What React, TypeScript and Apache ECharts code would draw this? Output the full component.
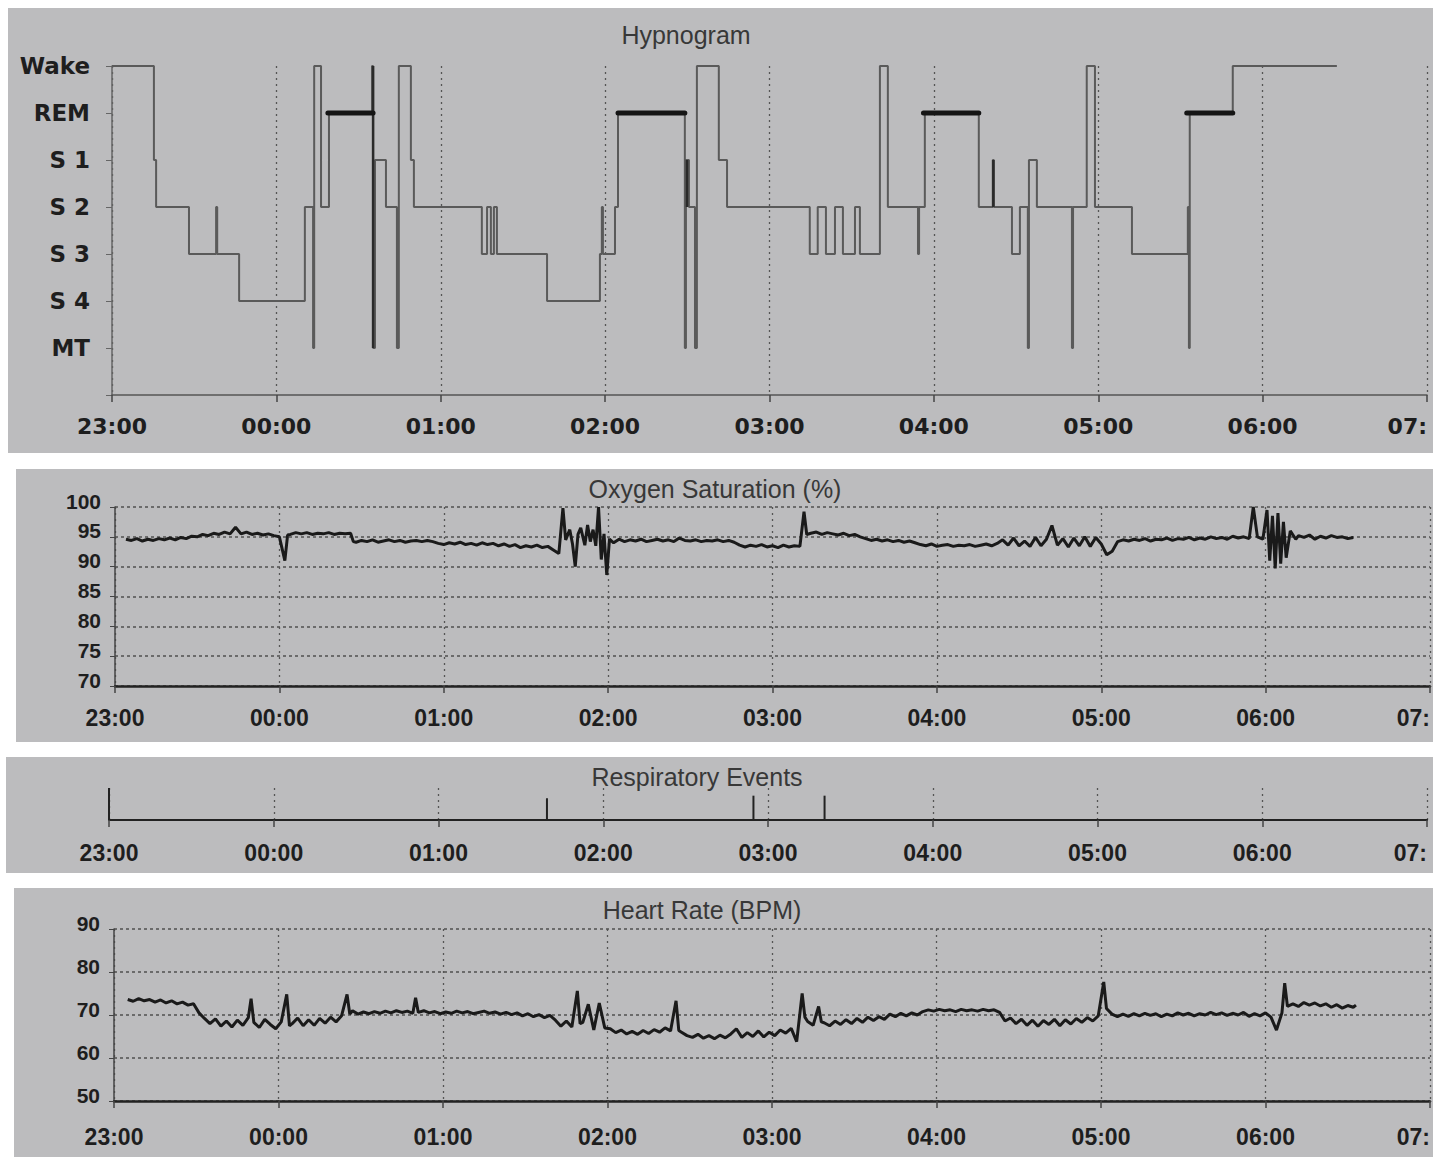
import React, { useEffect, useRef } from "react";
import * as echarts from "echarts";

// ---- tick labels (the last one is cropped to "07:" in the source picture) ----
const hourLabels = ["23:00", "00:00", "01:00", "02:00", "03:00", "04:00", "05:00", "06:00", "07:"];
const stageLabels = ["", "MT", "S 4", "S 3", "S 2", "S 1", "REM", "Wake"];

// ---- titles ----
const titles = ["Hypnogram", "Oxygen Saturation (%)", "Respiratory Events", "Heart Rate (BPM)"];

// ---- hypnogram: [minutes after 23:00, stage] (Wake=7 ... MT=1), stage holds until next point ----
const hypnogram: [number, number][] = [
  [0, 7], [15.3, 5], [16.1, 4], [28.1, 3], [38.0, 4], [38.4, 3], [46.4, 2], [70.4, 4], [73.4, 1], [73.8, 7],
  [76.3, 4], [79.2, 6], [94.9, 7], [95.3, 1], [96.0, 5], [100.0, 4], [104.0, 1], [104.7, 7], [109.1, 5], [110.2, 4],
  [135.0, 3], [136.9, 4], [138.3, 3], [139.4, 4], [140.5, 3], [158.8, 2], [178.1, 3], [178.8, 4], [179.2, 3], [183.6, 4],
  [184.7, 6], [209.1, 1], [209.5, 5], [210.6, 4], [212.8, 1], [213.5, 7], [221.5, 5], [224.5, 4], [254.7, 3], [257.6, 4],
  [260.6, 3], [263.9, 4], [266.8, 3], [271.2, 4], [273.0, 3], [280.3, 7], [283.2, 4], [294.2, 3], [294.6, 4], [296.7, 6],
  [316.4, 4], [321.5, 5], [321.9, 4], [328.5, 3], [331.4, 4], [334.3, 1], [334.7, 5], [337.6, 4], [350.4, 1], [350.8, 4],
  [355.8, 7], [358.8, 4], [372.3, 3], [392.7, 4], [393.1, 1], [393.4, 6], [409.1, 7], [447.1, 7],
];
// REM bouts drawn as thick bars [start, end]
const remBouts: [number, number][] = [[78.8, 95.3], [184.7, 209.1], [296.2, 316.4], [392.3, 409.1]];
// darker transitions [minute, fromStage, toStage]
const darkTransitions: [number, number, number][] = [[95.3, 1, 7], [209.9, 4, 5], [321.7, 4, 5]];

// ---- oxygen saturation: [minute, %] ----
const spo2: [number, number][] = [
  [4, 94.6], [6, 94.4], [8, 94.7], [10, 94.3], [12, 94.6], [14, 94.4], [16, 94.7], [18, 94.5], [20, 94.8], [22, 94.5],
  [24, 94.9], [26, 94.7], [28, 95.1], [30, 95.0], [32, 95.4], [34, 95.2], [36, 95.6], [38, 95.4], [40, 95.8], [42, 95.5],
  [44, 96.6], [46, 95.5], [48, 95.8], [50, 95.4], [52, 95.6], [54, 95.3], [56, 95.5], [58, 95.2], [60, 95.0], [62, 91.0],
  [63, 95.3], [64, 95.4], [66, 95.7], [68, 95.5], [70, 95.7], [72, 95.4], [74, 95.6], [76, 95.5], [78, 95.7], [80, 95.4],
  [82, 95.6], [84, 95.5], [86, 95.6], [87, 94.2], [88, 94.1], [90, 94.4], [92, 94.2], [94, 94.5], [96, 94.1], [98, 94.3],
  [100, 94.5], [102, 94.2], [104, 94.4], [106, 94.1], [108, 94.3], [110, 94.4], [112, 94.2], [114, 94.4], [116, 94.2], [118, 93.9],
  [120, 93.7], [122, 94.0], [124, 93.8], [126, 94.1], [128, 93.7], [130, 93.9], [132, 93.6], [134, 94.0], [136, 93.7], [138, 93.9],
  [140, 93.5], [142, 93.8], [144, 93.4], [146, 93.7], [148, 93.2], [150, 93.5], [152, 93.3], [154, 93.6], [156, 93.2], [158, 93.4],
  [160, 92.8], [162, 92.2], [163.5, 99.8], [164.5, 94.5], [166, 96.2], [167, 93.8], [168, 90.0], [169, 95.4], [170, 96.5], [171.5, 93.6],
  [172.5, 97.0], [173.5, 94.2], [174.5, 96.2], [175.5, 93.5], [176.5, 100], [177.5, 91.2], [178.5, 95.5], [179.5, 88.6], [180.5, 94.6], [182, 94.0],
  [184, 94.6], [186, 94.2], [188, 94.5], [190, 94.3], [192, 94.6], [194, 94.2], [196, 94.4], [198, 94.6], [200, 94.3], [202, 94.5],
  [204, 94.2], [206, 94.8], [208, 94.4], [210, 94.3], [212, 94.5], [214, 94.2], [216, 94.4], [218, 94.3], [220, 94.5], [222, 94.2],
  [224, 94.4], [226, 94.1], [228, 93.6], [230, 93.3], [232, 93.6], [234, 93.4], [236, 93.7], [238, 93.3], [240, 93.5], [242, 93.2],
  [244, 93.6], [246, 93.3], [248, 93.5], [250, 93.4], [251.5, 99.2], [252.5, 95.4], [254, 95.6], [256, 95.8], [258, 95.4], [260, 95.7],
  [262, 95.5], [264, 95.3], [266, 95.6], [268, 95.2], [270, 95.4], [272, 95.0], [274, 94.7], [276, 94.4], [278, 94.6], [280, 94.3],
  [282, 94.5], [284, 94.2], [286, 94.4], [288, 94.1], [290, 94.3], [292, 94.0], [294, 93.7], [296, 93.5], [298, 93.8], [300, 93.4],
  [302, 93.6], [304, 93.7], [306, 93.4], [308, 93.6], [310, 93.5], [312, 93.7], [314, 93.4], [316, 93.6], [318, 93.8], [320, 93.5],
  [322, 93.9], [324, 94.5], [326, 93.6], [328, 94.8], [330, 93.5], [332, 94.3], [334, 93.4], [336, 94.9], [338, 93.5], [340, 94.6],
  [342, 96.9], [344, 93.6], [346, 94.7], [348, 93.3], [350, 94.8], [352, 93.5], [354, 95.0], [356, 93.4], [358, 94.9], [360, 93.8],
  [362, 92.0], [364, 92.6], [366, 94.2], [368, 94.5], [370, 94.3], [372, 94.6], [374, 94.4], [376, 94.7], [378, 94.3], [380, 94.6],
  [382, 94.5], [384, 94.8], [386, 94.4], [388, 94.7], [390, 94.6], [392, 94.9], [394, 94.5], [396, 94.8], [398, 94.6], [400, 95.0],
  [402, 94.7], [404, 94.9], [406, 94.6], [408, 95.1], [410, 94.8], [412, 95.0], [414, 94.7], [415.5, 100], [417, 95.0], [419, 94.6],
  [420.5, 99.5], [421.5, 91.0], [422.5, 98.5], [423.5, 89.7], [424.5, 99.0], [425.5, 90.5], [426.5, 97.5], [427.5, 91.5], [429, 96.0], [431, 94.6],
  [432, 95.2], [434, 94.9], [436, 95.3], [438, 94.6], [440, 95.1], [442, 94.8], [444, 95.2], [446, 94.9], [448, 95.0], [450, 94.7],
  [452, 94.9],
];

// ---- heart rate: [minute, bpm] ----
const heartRate: [number, number][] = [
  [5, 73.6], [7, 73.2], [9, 73.8], [11, 73.3], [13, 73.6], [15, 73.0], [17, 73.5], [19, 72.8], [21, 73.3], [23, 72.6],
  [25, 73.0], [27, 72.3], [29, 72.6], [31, 70.5], [33, 69.2], [35, 68.0], [37, 69.1], [39, 67.4], [41, 68.6], [43, 67.2],
  [45, 68.8], [47, 67.6], [49, 69.4], [50, 73.8], [51, 68.3], [53, 67.1], [55, 69.0], [57, 67.8], [59, 66.8], [61, 68.4],
  [63, 74.8], [64, 67.5], [65, 68.0], [67, 69.3], [69, 67.5], [71, 68.9], [73, 67.6], [75, 69.2], [77, 68.1], [79, 69.5],
  [81, 68.4], [83, 69.8], [85, 74.8], [86, 70.2], [87, 71.0], [89, 70.2], [91, 70.7], [93, 70.3], [95, 70.8], [97, 70.4],
  [99, 70.9], [101, 70.5], [103, 71.0], [105, 70.6], [107, 70.9], [109, 70.4], [110, 74.0], [111, 70.6], [113, 71.0], [115, 70.5],
  [117, 70.8], [119, 70.3], [121, 70.7], [123, 70.4], [125, 70.9], [127, 70.5], [129, 70.8], [131, 70.3], [133, 70.6], [135, 70.9],
  [137, 70.4], [139, 70.7], [141, 70.2], [143, 70.6], [145, 70.1], [147, 70.5], [149, 69.8], [151, 70.3], [153, 69.6], [155, 70.1],
  [157, 69.4], [159, 69.9], [161, 68.8], [163, 67.4], [165, 68.6], [167, 67.2], [169, 75.6], [170, 68.0], [171, 68.3], [173, 72.5],
  [175, 66.5], [177, 72.8], [179, 67.0], [181, 66.8], [183, 65.9], [185, 66.5], [187, 65.6], [189, 66.2], [191, 65.5], [193, 66.4],
  [195, 65.7], [197, 66.6], [199, 66.0], [201, 67.0], [203, 66.3], [205, 73.3], [206, 66.4], [207, 66.0], [209, 65.2], [211, 64.8],
  [213, 65.5], [215, 64.6], [217, 65.2], [219, 64.5], [221, 65.3], [223, 64.7], [225, 65.6], [227, 66.8], [229, 64.8], [231, 65.9],
  [233, 65.0], [235, 66.3], [237, 64.9], [239, 66.0], [241, 65.2], [243, 66.5], [245, 65.8], [247, 66.9], [249, 63.8], [251, 75.0],
  [252, 69.5], [253, 68.5], [255, 67.6], [257, 72.0], [258, 68.4], [259, 68.2], [261, 67.5], [263, 68.6], [265, 67.8], [267, 68.9],
  [269, 68.0], [271, 69.2], [273, 68.3], [275, 69.5], [277, 68.7], [279, 69.6], [281, 69.0], [283, 70.2], [285, 69.6], [287, 70.4],
  [289, 69.8], [291, 70.5], [293, 70.0], [295, 70.8], [297, 71.2], [299, 70.9], [301, 71.3], [303, 71.0], [305, 71.2], [307, 70.8],
  [309, 71.3], [311, 71.0], [313, 71.2], [315, 70.9], [317, 71.3], [319, 71.0], [321, 71.2], [323, 70.6], [325, 68.6], [327, 69.3],
  [329, 68.0], [331, 69.0], [333, 67.6], [335, 68.8], [337, 67.4], [339, 68.7], [341, 67.8], [343, 69.0], [345, 67.5], [347, 68.9],
  [349, 67.9], [351, 69.2], [353, 68.3], [355, 69.4], [357, 68.6], [359, 69.8], [361, 77.7], [362, 71.5], [364, 70.2], [366, 69.6],
  [368, 70.2], [370, 69.7], [372, 70.3], [374, 69.8], [376, 70.4], [378, 69.9], [380, 70.3], [382, 69.6], [384, 70.2], [386, 69.8],
  [388, 70.5], [390, 70.0], [392, 70.4], [394, 69.8], [396, 70.3], [398, 70.0], [400, 70.6], [402, 70.1], [404, 70.5], [406, 69.9],
  [408, 70.4], [410, 70.0], [412, 70.6], [414, 69.7], [416, 70.3], [418, 69.8], [420, 70.5], [422, 69.5], [424, 66.5], [426, 70.5],
  [427, 77.4], [428, 72.0], [430, 72.6], [432, 72.0], [434, 72.9], [436, 72.3], [438, 72.8], [440, 72.1], [442, 72.6], [444, 71.8],
  [446, 72.4], [448, 71.6], [450, 72.2], [452, 71.8], [453, 72.3],
];

// ---- respiratory events: [minute, relative height] ----
const respEvents: [number, number][] = [[0, 1.0], [159.5, 0.68], [234.7, 0.76], [260.6, 0.76]];

const PANEL = "#bcbcbe";
const INK = "#1e1e1e";

export default function App() {
  const ref = useRef<HTMLDivElement>(null);

  useEffect(() => {
    if (!ref.current) return;
    const chart = echarts.init(ref.current, null, { renderer: "svg" });
    const hourFmt = (v: number) => hourLabels[Math.round(v / 60)] ?? "";

    const grids = [
      { left: 112, top: 66, width: 1315, height: 329 },
      { left: 115, top: 507, width: 1315, height: 179 },
      { left: 109, top: 788, width: 1318, height: 32 },
      { left: 114, top: 929, width: 1316, height: 172 },
    ].map((g) => ({ ...g, containLabel: false, outerBoundsMode: "none" }));

    const xBase = (i: number, labelFont: any, margin: number, axisW: number) => ({
      gridIndex: i,
      type: "value",
      min: 0,
      max: 480,
      interval: 60,
      axisLine: { show: true, onZero: false, lineStyle: { color: i === 0 ? "#555" : "#222", width: axisW } },
      axisTick: { show: true, length: 7, lineStyle: { color: "#444", width: 1.5 } },
      axisLabel: { formatter: hourFmt, margin, color: INK, alignMaxLabel: "right", ...labelFont },
      splitLine: { show: true, lineStyle: { type: [2, 4], color: "#555", width: 1.3 } },
    });

    const boldLib = { fontFamily: "Liberation Sans", fontWeight: "bold", fontSize: 23 };

    const xAxis = [
      xBase(0, { fontFamily: "DejaVu Sans", fontWeight: "bold", fontSize: 22 }, 20, 1.5),
      xBase(1, boldLib, 20, 2.5),
      xBase(2, boldLib, 21, 2.2),
      xBase(3, boldLib, 24, 2.5),
    ];

    const yNum = (i: number, min: number, max: number, interval: number) => ({
      gridIndex: i,
      type: "value",
      min,
      max,
      interval,
      axisLine: { show: true, lineStyle: { color: "#444", width: 1.5 } },
      axisTick: { show: true, length: 5, lineStyle: { color: "#444" } },
      axisLabel: {
        margin: 14,
        color: INK,
        fontFamily: "Liberation Sans",
        fontWeight: "bold",
        fontSize: 21,
        verticalAlign: "bottom",
        lineHeight: 12,
      },
      splitLine: { show: true, lineStyle: { type: [3, 3], color: "#505050", width: 1.5 } },
    });

    const yAxis = [
      {
        gridIndex: 0,
        type: "value",
        min: 0,
        max: 7,
        interval: 1,
        axisLine: { show: true, lineStyle: { color: "#666", width: 1.5 } },
        axisTick: { show: true, length: 6, lineStyle: { color: "#666" } },
        axisLabel: {
          formatter: (v: number) => stageLabels[v] ?? "",
          margin: 22,
          color: INK,
          fontFamily: "DejaVu Sans",
          fontWeight: "bold",
          fontSize: 23,
        },
        splitLine: { show: false },
      },
      yNum(1, 70, 100, 5),
      { gridIndex: 2, type: "value", min: 0, max: 1, show: false },
      yNum(3, 50, 90, 10),
    ];

    const series: any[] = [
      {
        type: "line",
        xAxisIndex: 0,
        yAxisIndex: 0,
        step: "end",
        data: hypnogram,
        symbol: "none",
        lineStyle: { color: "#5a5a5a", width: 2 },
        z: 3,
      },
      ...darkTransitions.map(([t, a, b]) => ({
        type: "line",
        xAxisIndex: 0,
        yAxisIndex: 0,
        data: [[t, a], [t, b]],
        symbol: "none",
        lineStyle: { color: "#2a2a2a", width: 2.5 },
        z: 4,
      })),
      ...remBouts.map(([s, e]) => ({
        type: "line",
        xAxisIndex: 0,
        yAxisIndex: 0,
        data: [[s, 6], [e, 6]],
        symbol: "none",
        lineStyle: { color: "#151515", width: 5, cap: "round" },
        z: 5,
      })),
      {
        type: "line",
        xAxisIndex: 1,
        yAxisIndex: 1,
        data: spo2,
        symbol: "none",
        lineStyle: { color: "#1a1a1a", width: 3 },
        z: 3,
      },
      {
        type: "bar",
        xAxisIndex: 2,
        yAxisIndex: 2,
        data: respEvents,
        barWidth: 2,
        itemStyle: { color: "#222" },
        z: 3,
      },
      {
        type: "line",
        xAxisIndex: 3,
        yAxisIndex: 3,
        data: heartRate,
        symbol: "none",
        lineStyle: { color: "#1a1a1a", width: 3 },
        z: 3,
      },
    ];

    const panels = [
      { x: 8, y: 8, w: 1425, h: 445 },
      { x: 16, y: 469, w: 1417, h: 273 },
      { x: 6, y: 757, w: 1427, h: 116 },
      { x: 14, y: 888, w: 1419, h: 269 },
    ];
    const titlePos = [
      { x: 686, y: 35 },
      { x: 715, y: 489 },
      { x: 697, y: 777 },
      { x: 702, y: 910 },
    ];

    const graphic: any[] = [
      ...panels.map((p) => ({
        type: "rect",
        z: -10,
        shape: { x: p.x, y: p.y, width: p.w, height: p.h },
        style: { fill: PANEL },
        silent: true,
      })),
      ...titles.map((t, i) => ({
        type: "text",
        z: 10,
        x: titlePos[i].x,
        y: titlePos[i].y,
        style: {
          text: t,
          fill: "#383838",
          font: "25px 'Liberation Sans', Arial, sans-serif",
          textAlign: "center",
          textVerticalAlign: "middle",
        },
      })),
      {
        type: "rect",
        z: 100,
        shape: { x: 1433, y: 0, width: 20, height: 1157 },
        style: { fill: "#ffffff" },
        silent: true,
      },
    ];

    chart.setOption({
      animation: false,
      backgroundColor: "#ffffff",
      grid: grids,
      xAxis,
      yAxis,
      series,
      graphic,
    });

    return () => chart.dispose();
  }, []);

  return (
    <div
      ref={ref}
      style={{ position: "absolute", left: 0, top: 0, width: 1442, height: 1157, background: "#fff" }}
    />
  );
}
